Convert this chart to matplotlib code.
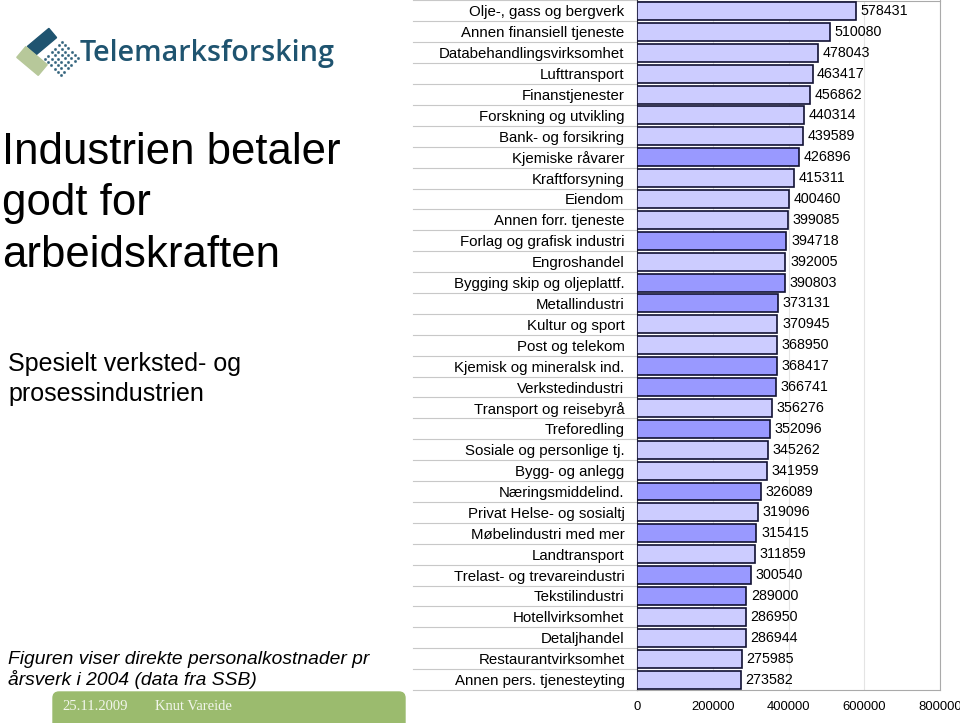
import matplotlib.pyplot as plt
from matplotlib.patches import FancyBboxPatch, Rectangle
import matplotlib.transforms as mtransforms
import numpy as np

plt.rcParams['font.family'] = ['Liberation Sans', 'DejaVu Sans']

# Direkte personalkostnader pr årsverk 2004 (SSB)
naeringer = [
    'Olje-, gass og bergverk', 'Annen finansiell tjeneste', 'Databehandlingsvirksomhet',
    'Lufttransport', 'Finanstjenester', 'Forskning og utvikling', 'Bank- og forsikring',
    'Kjemiske råvarer', 'Kraftforsyning', 'Eiendom', 'Annen forr. tjeneste',
    'Forlag og grafisk industri', 'Engroshandel', 'Bygging skip og oljeplattf.',
    'Metallindustri', 'Kultur og sport', 'Post og telekom', 'Kjemisk og mineralsk ind.',
    'Verkstedindustri', 'Transport og reisebyrå', 'Treforedling', 'Sosiale og personlige tj.',
    'Bygg- og anlegg', 'Næringsmiddelind.', 'Privat Helse- og sosialtj',
    'Møbelindustri med mer', 'Landtransport', 'Trelast- og trevareindustri',
    'Tekstilindustri', 'Hotellvirksomhet', 'Detaljhandel', 'Restaurantvirksomhet',
    'Annen pers. tjenesteyting',
]
kostnad = [
    578431, 510080, 478043, 463417, 456862, 440314, 439589, 426896, 415311, 400460,
    399085, 394718, 392005, 390803, 373131, 370945, 368950, 368417, 366741, 356276,
    352096, 345262, 341959, 326089, 319096, 315415, 311859, 300540, 289000, 286950,
    286944, 275985, 273582,
]
industri = [
    'Kjemiske råvarer', 'Forlag og grafisk industri', 'Bygging skip og oljeplattf.',
    'Metallindustri', 'Kjemisk og mineralsk ind.', 'Verkstedindustri', 'Treforedling',
    'Næringsmiddelind.', 'Møbelindustri med mer', 'Trelast- og trevareindustri',
    'Tekstilindustri',
]
x_ticks = [0, 200000, 400000, 600000, 800000]

W, H = 960, 723
fig = plt.figure(figsize=(W / 100, H / 100), dpi=100)

# --- stolpediagram ---
ax = fig.add_axes([637 / W, 1 - 690 / H, 303 / W, 689.5 / H])
y = np.arange(len(naeringer))
farger = ['#9999FF' if n in industri else '#CCCCFF' for n in naeringer]
ax.barh(y, kostnad, height=0.86, color=farger, edgecolor='#111133', linewidth=1.2, zorder=3)
for yi, v in zip(y, kostnad):
    ax.text(v + 12000, yi, str(v), va='center', ha='left', fontsize=10.3, zorder=4)

ax.set_xlim(0, 800000)
ax.set_ylim(len(naeringer) - 0.5, -0.5)
ax.set_xticks(x_ticks)
ax.set_xticklabels([str(t) for t in x_ticks], fontsize=9.4)
ax.set_yticks(y)
ax.set_yticklabels(naeringer, fontsize=10.8)
ax.tick_params(axis='y', length=0, pad=9)
ax.tick_params(axis='x', length=0, pad=8)
ax.xaxis.grid(True, color='#E4E4E4', linewidth=0.8, zorder=0)
for s in ax.spines.values():
    s.set_color('#AAAAAA')
    s.set_linewidth(0.8)
ax.spines['left'].set_color('#333333')

# skillelinjer mellom kategorinavnene
trans = ax.get_yaxis_transform()
xs = (413 - 637) / 303
for b in np.arange(-0.5, len(naeringer) + 0.5, 1.0):
    ax.plot([xs, 0], [b, b], transform=trans, color='#C8C8C8', linewidth=0.8, clip_on=False)

# --- venstre tekstpanel ---
fig.text(2 / W, 1 - 204 / H, 'Industrien betaler\ngodt for\narbeidskraften',
         fontsize=31.5, va='center', ha='left', linespacing=1.32)
fig.text(8 / W, 1 - 379 / H, 'Spesielt verksted- og\nprosessindustrien',
         fontsize=18, va='center', ha='left', linespacing=1.3)
fig.text(8 / W, 1 - 670 / H, 'Figuren viser direkte personalkostnader pr\nårsverk i 2004 (data fra SSB)',
         fontsize=13.9, style='italic', va='center', ha='left', linespacing=1.1)

# logo
lax = fig.add_axes([0, 0, 1, 1], zorder=-1)
lax.set_xlim(0, W)
lax.set_ylim(H, 0)
lax.axis('off')
r1 = Rectangle((28, 36), 28, 12, color='#1F5470')
r1.set_transform(mtransforms.Affine2D().rotate_deg_around(42, 42, -40) + lax.transData)
r2 = Rectangle((18, 54), 28, 14, color='#B7C89A')
r2.set_transform(mtransforms.Affine2D().rotate_deg_around(32, 61, 40) + lax.transData)
lax.add_patch(r1)
lax.add_patch(r2)
for i in range(6):
    for j in range(6):
        cx = 62 + i * 3.2 - j * 3.4
        cy = 42 + i * 3.2 + j * 3.4
        lax.plot(cx, cy, 'o', ms=1.2, color='#1F5470', alpha=0.7)
lax.text(80, 53, 'Telemarksforsking', fontsize=20.7, color='#1F5470', va='center', ha='left',
         family=['Open Sans', 'DejaVu Sans'], weight='semibold')

# bunnlinje
lax.add_patch(FancyBboxPatch((53, 692), 352, 40, boxstyle='round,pad=0,rounding_size=6',
                             color='#9BBB6E'))
lax.text(62, 706, '25.11.2009', fontsize=10.5, color='#F2F6EC', va='center', ha='left',
         family='Liberation Serif')
lax.text(155, 706, 'Knut Vareide', fontsize=10.5, color='#F2F6EC', va='center', ha='left',
         family='Liberation Serif')

fig.savefig('out.png', dpi=100)
